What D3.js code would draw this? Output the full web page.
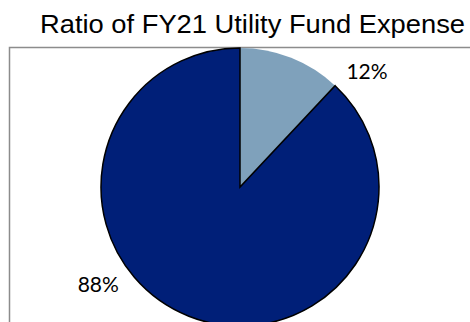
<!DOCTYPE html>
<html>
<head>
<meta charset="utf-8">
<script src="https://cdn.jsdelivr.net/npm/d3@7"></script>
<style>
  html, body { margin: 0; padding: 0; background: #fff; }
  svg { display: block; }
</style>
</head>
<body>
<svg id="chart" width="470" height="322"></svg>
<script>
// Expense split for the utility fund
const categories = ["Other", "Utility Fund"];
const shares = [12, 88];
const labels = ["12%", "88%"];
const colors = ["#7fa1bb", "#001f78"];

// Layout
const W = 470, H = 322;
const cx = 240, cy = 187, R = 139;
const labelRadius = 172;
const labelAngleDeg = [47.6, 235.5];

const svg = d3.select("#chart");

svg.append("text")
  .attr("x", 252.5)
  .attr("y", 33)
  .attr("text-anchor", "middle")
  .attr("font-family", "Liberation Sans, Arial, sans-serif")
  .attr("font-size", 25.5)
  .attr("textLength", 425)
  .attr("lengthAdjust", "spacingAndGlyphs")
  .attr("fill", "#000")
  .text("Ratio of FY21 Utility Fund Expense");

// chart-area frame (runs off the right and bottom edges)
svg.append("rect")
  .attr("x", 9.5)
  .attr("y", 47.5)
  .attr("width", 480)
  .attr("height", 300)
  .attr("fill", "none")
  .attr("stroke", "#8c8c8c")
  .attr("stroke-width", 1.5);

const data = categories.map((c, i) => ({ category: c, value: shares[i], label: labels[i], color: colors[i] }));

const pie = d3.pie().sort(null).value(d => d.value);
const arcs = pie(data);
const arc = d3.arc().innerRadius(0).outerRadius(R);

const g = svg.append("g").attr("transform", `translate(${cx},${cy})`);

g.selectAll("path")
  .data(arcs)
  .join("path")
  .attr("d", arc)
  .attr("fill", d => d.data.color)
  .attr("stroke", (d, i) => i === 1 ? "#000" : "none")
  .attr("stroke-width", 1.5)
  .attr("stroke-linejoin", "miter");

g.selectAll("text.lbl")
  .data(arcs)
  .join("text")
  .attr("class", "lbl")
  .attr("transform", (d, i) => {
    const p = d3.pointRadial(labelAngleDeg[i] * Math.PI / 180, labelRadius);
    return `translate(${p[0]},${p[1]})`;
  })
  .attr("text-anchor", "middle")
  .attr("dy", "0.36em")
  .attr("font-family", "Lato, Carlito, Calibri, sans-serif")
  .attr("font-size", 21)
  .attr("fill", "#000")
  .text(d => d.data.label);
</script>
</body>
</html>
